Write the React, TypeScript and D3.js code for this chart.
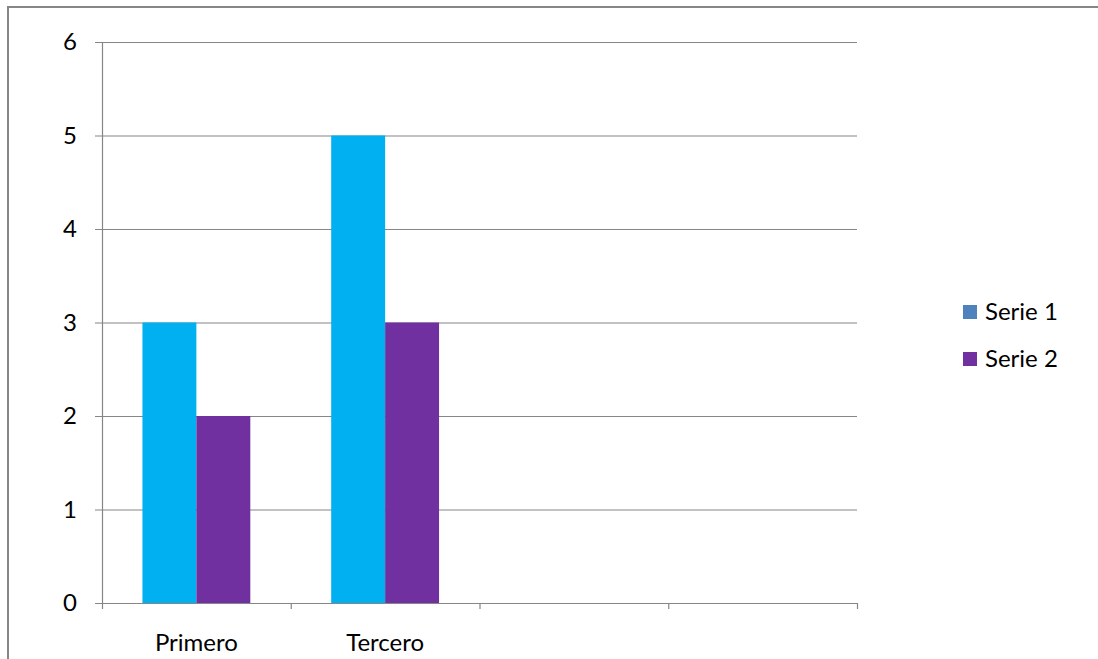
import * as d3 from 'd3';

const categories = ['Primero', 'Tercero', '', ' '];
const serie1 = [3, 5, null, null];
const serie2 = [2, 3, null, null];
const seriesNames = ['Serie 1', 'Serie 2'];
const barColors = ['#00B0F0', '#7030A0'];
const legendColors = ['#4F81BD', '#7030A0'];
const yTicks = [0, 1, 2, 3, 4, 5, 6];

const W = 1098;
const H = 659;
const plot = { left: 102, right: 857, top: 42, bottom: 603 };
const font = 'Lato, "Open Sans", sans-serif';
const fs = 24;

export default function App() {
  const x = d3.scaleBand<string>().domain(categories).range([plot.left, plot.right]);
  const inner = d3
    .scaleBand<string>()
    .domain(seriesNames)
    .range([0, x.bandwidth()])
    .paddingOuter(0.75);
  const y = d3.scaleLinear().domain([0, 6]).range([plot.bottom, plot.top]);

  const values = [serie1, serie2];
  const tickXs = categories.map((c) => x(c)!).concat(plot.right);

  return (
    <svg
      width={W}
      height={H}
      style={{ position: 'absolute', left: 0, top: 0, background: '#fff' }}
      fontFamily={font}
    >
      {/* outer frame: only top and left visible */}
      <path d={`M8,${H} V7 H${W}`} fill='none' stroke='#868686' strokeWidth={2} />

      {/* gridlines */}
      <g stroke='#868686' strokeWidth={1.2}>
        {yTicks.map((t) => (
          <line key={t} x1={plot.left - 7} x2={plot.right} y1={y(t) + 0.5} y2={y(t) + 0.5} />
        ))}
        <line x1={plot.left + 0.5} x2={plot.left + 0.5} y1={plot.top} y2={plot.bottom + 6} />
        {tickXs.slice(1).map((tx, i) => (
          <line key={i} x1={tx + 0.5} x2={tx + 0.5} y1={plot.bottom} y2={plot.bottom + 6} />
        ))}
      </g>

      {/* bars */}
      {values.map((vals, si) =>
        vals.map((v, ci) =>
          v == null ? null : (
            <rect
              key={`${si}-${ci}`}
              x={x(categories[ci])! + inner(seriesNames[si])!}
              y={y(v)}
              width={inner.bandwidth()}
              height={y(0) - y(v)}
              fill={barColors[si]}
            />
          ),
        ),
      )}

      {/* y labels */}
      <g fontSize={fs} fill='#000' textAnchor='end'>
        {yTicks.map((t) => (
          <text key={t} x={77} y={y(t)} dy='0.35em'>
            {t}
          </text>
        ))}
      </g>

      {/* x labels */}
      <g fontSize={fs} fill='#000' textAnchor='middle'>
        {categories.map((c) => (
          <text key={c} x={x(c)! + x.bandwidth() / 2} y={651}>
            {c.trim()}
          </text>
        ))}
      </g>

      {/* legend */}
      <g fontSize={fs} fill='#000'>
        {seriesNames.map((s, i) => (
          <g key={s} transform={`translate(963,${305 + i * 47})`}>
            <rect width={14} height={14} fill={legendColors[i]} />
            <text x={22} y={15}>
              {s}
            </text>
          </g>
        ))}
      </g>
    </svg>
  );
}
